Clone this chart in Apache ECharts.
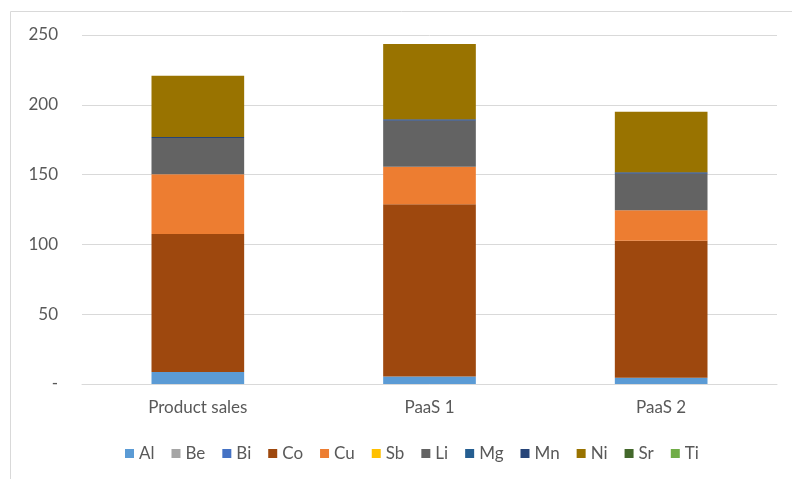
<!DOCTYPE html>
<html>
<head>
<meta charset="utf-8">
<script src="https://cdn.jsdelivr.net/npm/echarts@6/dist/echarts.min.js"></script>
<style>
	html, body { margin: 0; padding: 0; background: #fff; }
	#main { width: 792px; height: 479px; }
</style>
</head>
<body>
<div id="main"></div>
<script>
const categories = ['Product sales', 'PaaS 1', 'PaaS 2']
const elements = ['Al', 'Be', 'Bi', 'Co', 'Cu', 'Sb', 'Li', 'Mg', 'Mn', 'Ni', 'Sr', 'Ti']
const colors = ['#5B9BD5', '#A5A5A5', '#4472C4', '#9E480E', '#ED7D31', '#FFC000',
	'#636363', '#255E91', '#264478', '#997300', '#43682B', '#70AD47']

// values per element, one per category
const Al = [8.6, 5.3, 4.5]
const Be = [0, 0, 0]
const Bi = [0, 0, 0]
const Co = [98.8, 123.4, 98.2]
const Cu = [42.8, 27.0, 21.7]
const Sb = [0, 0, 0]
const Li = [26.0, 32.9, 26.2]
const Mg = [0, 0, 0]
const Mn = [0.7, 1.0, 1.0]
const Ni = [43.9, 54.0, 43.5]
const Sr = [0, 0, 0]
const Ti = [0, 0, 0]

const values = [Al, Be, Bi, Co, Cu, Sb, Li, Mg, Mn, Ni, Sr, Ti]
const font = 'Lato, "Open Sans", sans-serif'

const chart = echarts.init(document.getElementById('main'))
const option = {
	animation: false,
	color: colors,
	graphic: [{
		type: 'rect',
		shape: { x: 10.5, y: 11.5, width: 820, height: 520 },
		style: { fill: 'none', stroke: '#d9d9d9', lineWidth: 1 },
		silent: true
	}],
	grid: { left: 82, right: 15, top: 35, bottom: 95 },
	legend: {
		bottom: 12,
		left: 120,
		itemWidth: 9,
		itemHeight: 9,
		itemGap: 17,
		icon: 'rect',
		textStyle: { color: '#595959', fontSize: 17, fontFamily: font },
		data: elements
	},
	xAxis: {
		type: 'category',
		data: categories,
		axisTick: { show: false },
		axisLine: { lineStyle: { color: '#d9d9d9' } },
		axisLabel: { color: '#595959', fontSize: 17, fontFamily: font, margin: 15 }
	},
	yAxis: {
		type: 'value',
		min: 0,
		max: 250,
		interval: 50,
		axisLine: { show: false },
		axisTick: { show: false },
		splitLine: { lineStyle: { color: '#d9d9d9' } },
		axisLabel: {
			color: '#595959', fontSize: 17, fontFamily: font, margin: 24,
			formatter: (v) => v === 0 ? '-' : String(v)
		}
	},
	series: elements.map((name, i) => ({
		name: name,
		type: 'bar',
		stack: 'total',
		barWidth: '40%',
		data: values[i]
	}))
}
chart.setOption(option)
</script>
</body>
</html>
